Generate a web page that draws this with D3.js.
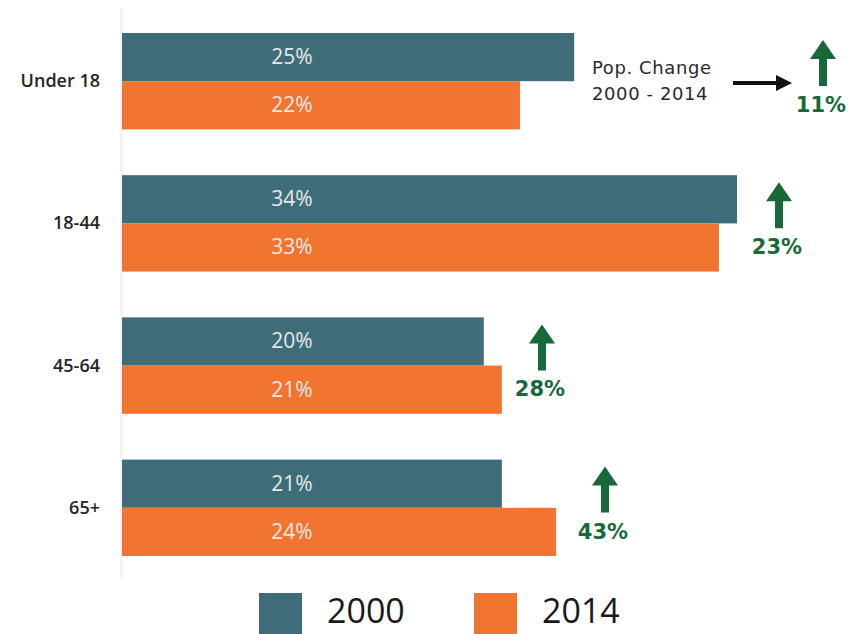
<!DOCTYPE html>
<html>
<head>
<meta charset="utf-8">
<script src="https://cdn.jsdelivr.net/npm/d3@7"></script>
<style>
  body { margin: 0; background: #fff; }
  svg { display: block; }
</style>
</head>
<body>
<div id="chart"></div>
<script>
// data
var ageGroups = ["Under 18", "18-44", "45-64", "65+"];
var years = ["2000", "2014"];
var share2000 = [25, 34, 20, 21];
var share2014 = [22, 33, 21, 24];
var popChange = [11, 23, 28, 43];

var svgWidth = 848, svgHeight = 634;
var colors = { "2000": "#3e6d79", "2014": "#f17430" };
var green = "#17693a";

var svg = d3.select("#chart").append("svg")
  .attr("width", svgWidth)
  .attr("height", svgHeight);

var rows = ageGroups.map(function(g, i) {
  return { group: g, values: [share2000[i], share2014[i]], change: popChange[i] };
});

var xScale = d3.scaleLinear().domain([0, 34]).range([122, 737]);
var yScale = d3.scaleBand().domain(ageGroups).range([33, 556]).paddingInner(0.322);
var subScale = d3.scaleBand().domain(years).range([0, yScale.bandwidth()]);

// faint baseline
svg.append("line")
  .attr("x1", 121.5).attr("x2", 121.5)
  .attr("y1", 8).attr("y2", 578)
  .attr("stroke", "#eeeeee")
  .attr("stroke-width", 2);

var groups = svg.selectAll("g.row").data(rows).enter().append("g")
  .attr("class", "row")
  .attr("transform", d => `translate(0, ${yScale(d.group)})`);

groups.selectAll("rect").data(d => d.values.map((v, j) => ({ year: years[j], value: v })))
  .enter().append("rect")
  .attr("x", xScale(0))
  .attr("y", d => subScale(d.year))
  .attr("width", d => xScale(d.value) - xScale(0))
  .attr("height", subScale.bandwidth())
  .attr("fill", d => colors[d.year]);

groups.selectAll("text.val").data(d => d.values.map((v, j) => ({ year: years[j], value: v })))
  .enter().append("text")
  .attr("class", "val")
  .attr("x", 292)
  .attr("y", d => subScale(d.year) + subScale.bandwidth() / 2 + 7)
  .attr("text-anchor", "middle")
  .style("font-family", "'Open Sans', sans-serif")
  .style("font-size", "21px")
  .style("fill", "#e8e8e8")
  .text(d => d.value + "%");

// category labels
groups.append("text")
  .attr("x", 100)
  .attr("y", yScale.bandwidth() / 2 + 6)
  .attr("text-anchor", "end")
  .style("font-family", "'Open Sans', sans-serif")
  .style("font-weight", "600")
  .style("font-size", "18px")
  .style("fill", "#262626")
  .text(d => d.group);

// green change arrows
var arrowX = [823, 779, 542, 605];
function upArrow(g, cx, top) {
  g.append("path")
    .attr("d", `M${cx},${top} L${cx + 13},${top + 19} L${cx + 4},${top + 19} L${cx + 4},${top + 46} L${cx - 4},${top + 46} L${cx - 4},${top + 19} L${cx - 13},${top + 19} Z`)
    .attr("fill", green);
}
groups.each(function(d, i) {
  var g = d3.select(this);
  upArrow(g, arrowX[i], 7);
  g.append("text")
    .attr("x", arrowX[i] - 2)
    .attr("y", 79)
    .attr("text-anchor", "middle")
    .style("font-family", "'DejaVu Sans', sans-serif")
    .style("font-weight", "bold")
    .style("font-size", "21px")
    .style("fill", green)
    .text(d.change + "%");
});

// Pop. Change annotation
var note = svg.append("g")
  .style("font-family", "'DejaVu Sans', sans-serif")
  .style("font-size", "18px")
  .style("letter-spacing", "0.6px")
  .style("fill", "#2a2a2a");
note.append("text")
  .attr("x", 592).attr("y", 74)
  .text("Pop. Change");
note.append("text")
  .attr("x", 592).attr("y", 100)
  .text("2000 - 2014");
note.append("line")
  .attr("x1", 733).attr("x2", 778)
  .attr("y1", 83).attr("y2", 83)
  .attr("stroke", "#111").attr("stroke-width", 4);
note.append("path")
  .attr("d", "M792,83 L776,75 L776,91 Z")
  .attr("fill", "#111");

// legend
var legend = svg.selectAll("g.legend").data(years).enter().append("g")
  .attr("class", "legend")
  .attr("transform", (d, i) => `translate(${259 + i * 215}, 593)`);
legend.append("rect")
  .attr("width", 43).attr("height", 45)
  .attr("fill", d => colors[d]);
legend.append("text")
  .attr("x", 68).attr("y", 30)
  .style("font-family", "'Open Sans', sans-serif")
  .style("font-size", "34px")
  .style("fill", "#1a1a1a")
  .text(d => d);
</script>
</body>
</html>
